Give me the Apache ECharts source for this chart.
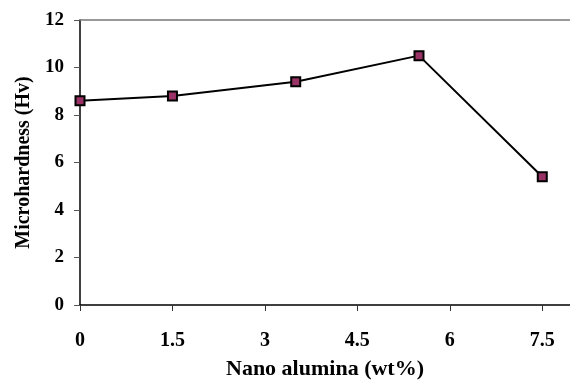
<!DOCTYPE html>
<html>
<head>
<meta charset="utf-8">
<script src="https://cdn.jsdelivr.net/npm/echarts@6/dist/echarts.min.js"></script>
<style>
  html, body { margin: 0; padding: 0; background: #fff; }
  #chart { width: 570px; height: 380px; }
</style>
</head>
<body>
<div id="chart"></div>
<script>
var aluminaWt = [0, 1.5, 3.5, 5.5, 7.5];
var hardness = [8.6, 8.8, 9.4, 10.5, 5.4];
var xTicks = [0, 1.5, 3, 4.5, 6, 7.5];
var yTicks = [0, 2, 4, 6, 8, 10, 12];

var chartDom = document.getElementById('chart');
var myChart = echarts.init(chartDom);
var font = '"Liberation Serif", "Times New Roman", serif';

var option = {
  animation: false,
  grid: { left: 80, right: 0, top: 20, bottom: 75, outerBoundsMode: 'none', containLabel: false },
  xAxis: [
    {
      type: 'value',
      min: 0,
      max: 7.95,
      name: 'Nano alumina (wt%)',
      nameLocation: 'middle',
      nameGap: 53,
      nameTextStyle: { fontFamily: font, fontWeight: 'bold', fontSize: 22, color: '#000' },
      axisLine: { show: true, lineStyle: { color: '#000', width: 1.5 } },
      axisTick: { show: true, length: 6, customValues: xTicks, lineStyle: { color: '#333' } },
      axisLabel: {
        customValues: xTicks,
        margin: 26,
        fontFamily: font, fontWeight: 'bold', fontSize: 20, color: '#000'
      },
      splitLine: { show: false }
    },
    {
      type: 'value',
      position: 'top',
      min: 0,
      max: 7.95,
      axisLine: { show: true, lineStyle: { color: '#777', width: 1.5 } },
      axisTick: { show: false },
      axisLabel: { show: false },
      splitLine: { show: false }
    }
  ],
  yAxis: {
    type: 'value',
    min: 0,
    max: 12,
    interval: 2,
    name: 'Microhardness (Hv)',
    nameLocation: 'middle',
    nameGap: 45,
    nameTextStyle: { fontFamily: font, fontWeight: 'bold', fontSize: 20, color: '#000' },
    axisLine: { show: true, lineStyle: { color: '#000', width: 1.5 } },
    axisTick: { show: true, length: 6, lineStyle: { color: '#555' } },
    axisLabel: {
      margin: 16,
      fontFamily: font, fontWeight: 'bold', fontSize: 19, color: '#000',
      formatter: function (v) { return yTicks.indexOf(v) >= 0 ? String(v) : ''; }
    },
    splitLine: { show: false }
  },
  series: [
    {
      type: 'line',
      data: aluminaWt.map(function (x, i) { return [x, hardness[i]]; }),
      symbol: 'rect',
      symbolSize: 9,
      showAllSymbol: true,
      lineStyle: { color: '#000', width: 2 },
      itemStyle: { color: '#993366', borderColor: '#000', borderWidth: 2 },
      z: 5
    }
  ]
};

myChart.setOption(option);
</script>
</body>
</html>
